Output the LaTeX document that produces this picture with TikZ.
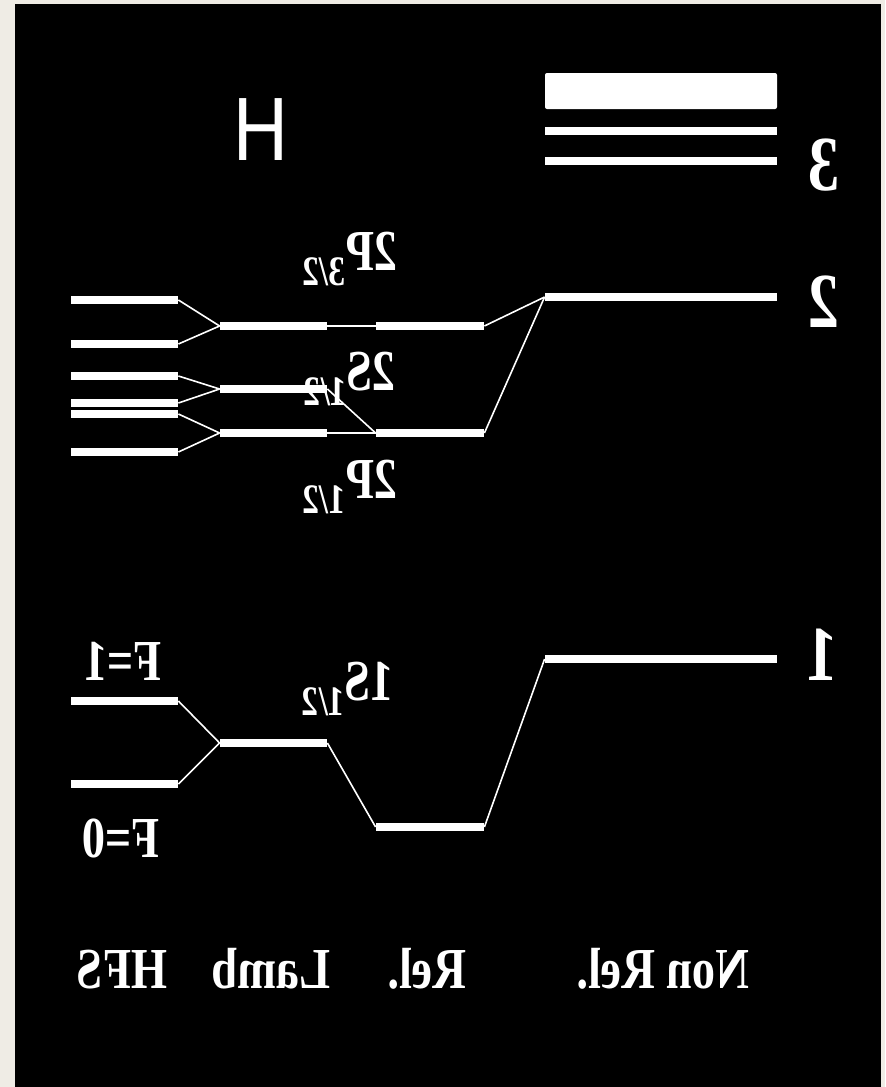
\documentclass[tikz,border=0pt]{standalone}
\usepackage{fontspec}
\setmainfont{Liberation Serif}
\newfontfamily\elemfont{Liberation Sans}
\usetikzlibrary{positioning}

\definecolor{paper}{HTML}{EFECE5}

\newcommand{\lvlsub}[1]{\raisebox{-7.5pt}{\fontsize{21}{21}\selectfont #1}}

\begin{document}
\begin{tikzpicture}[x=0.5pt, y=-0.5pt]

\tikzset{
  lvl/.style={
    fill=white,
    inner sep=0pt,
    minimum height=4pt
  },
  hfs/.style={lvl, minimum width=53.5pt},
  lamb/.style={lvl, minimum width=53.5pt},
  rel/.style={lvl, minimum width=54pt},
  nonrel/.style={lvl, minimum width=116pt},
  mirr/.style={
    text=white,
    inner sep=0pt,
    anchor=base,
    xscale=-0.8,
    font=\fontsize{29}{29}\selectfont\bfseries
  },
  quantum/.style={mirr, font=\fontsize{39}{39}\selectfont\bfseries},
  link/.style={white, line width=0.8pt}
}

% Background
\useasboundingbox (0,0) rectangle (885,1087);
\fill[paper] (0,0) rectangle (885,1087);
\fill[black] (15,4) rectangle (881,1087);

% Nodes Non Rel.
\node[nonrel, minimum height=18pt, rounded corners=1pt] (n4) at (661,91) {};
\node[nonrel] (n3a) at (661,131) {};
\node[nonrel] (n3b) at (661,161) {};
\node[nonrel] (n2)  at (661,297) {};
\node[nonrel] (n1)  at (661,659) {};

% Nodes Rel.
\node[rel] (r2p3) at (430,326) {};
\node[rel] (r2s)  at (430,433) {};
\node[rel] (r1s)  at (430,827) {};

% Nodes Lamb
\node[lamb] (l2p3) at (273.5,326) {};
\node[lamb] (l2s)  at (273.5,389) {};
\node[lamb] (l2p1) at (273.5,433) {};
\node[lamb] (l1s)  at (273.5,743) {};

% Nodes HFS
\node[hfs] (h1) at (124.5,300) {};
\node[hfs] (h2) at (124.5,344) {};
\node[hfs] (h3) at (124.5,376) {};
\node[hfs] (h4) at (124.5,403) {};
\node[hfs] (h5) at (124.5,414) {};
\node[hfs] (h6) at (124.5,452) {};
\node[hfs] (h7) at (124.5,701) {};
\node[hfs] (h8) at (124.5,784) {};

% Lines HFS - Lamb
\draw[link] (h1.east) -- (l2p3.west);
\draw[link] (h2.east) -- (l2p3.west);
\draw[link] (h3.east) -- (l2s.west);
\draw[link] (h4.east) -- (l2s.west);
\draw[link] (h5.east) -- (l2p1.west);
\draw[link] (h6.east) -- (l2p1.west);
\draw[link] (h7.east) -- (l1s.west);
\draw[link] (h8.east) -- (l1s.west);

% Lines Lamb - Rel.
\draw[link] (l2p3.east) -- (r2p3.west);
\draw[link] (l2s.east)  -- (r2s.west);
\draw[link] (l2p1.east) -- (r2s.west);
\draw[link] (l1s.east)  -- (r1s.west);

% Lines Rel. - Non Rel.
\draw[link] (r2p3.east) -- (n2.west);
\draw[link] (r2s.east)  -- (n2.west);
\draw[link] (r1s.east)  -- (n1.west);

% Labels
\node[mirr, xscale=1.06, font=\elemfont\fontsize{45}{45}\selectfont] (elem) at (261,160) {H};
\node[quantum] (k3) at (824,190) {3};
\node[quantum] (k2) at (824,327) {2};
\node[quantum] (k1) at (822,680) {1};

\node[mirr] (t2p3) at (350,270) {2P\lvlsub{3/2}};
\node[mirr] (t2s)  at (350,390) {2S\lvlsub{1/2}};
\node[mirr] (t2p1) at (350,498) {2P\lvlsub{1/2}};
\node[mirr] (t1s)  at (348,700) {1S\lvlsub{1/2}};

\node[mirr] (f1) at (123,680) {F=1};
\node[mirr] (f0) at (121,857) {F=0};

% Column labels
\node[mirr] (chfs)    at (122,988) {HFS};
\node[mirr] (clamb)   at (271,988) {Lamb};
\node[mirr] (crel)    at (427,988) {Rel.};
\node[mirr] (cnonrel) at (663,988) {Non Rel.};

\end{tikzpicture}
\end{document}
